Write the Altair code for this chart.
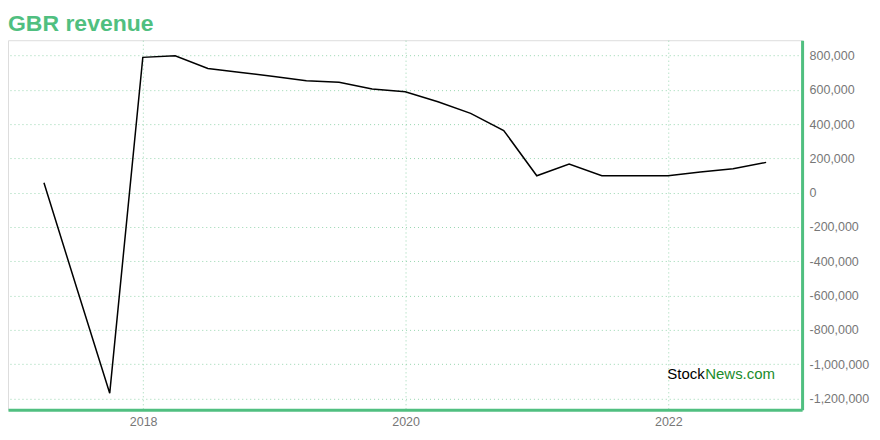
import altair as alt
import pandas as pd

dates = [
    "2017-03-31", "2017-06-30", "2017-09-30", "2017-12-31",
    "2018-03-31", "2018-06-30", "2018-09-30", "2018-12-31",
    "2019-03-31", "2019-06-30", "2019-09-30", "2019-12-31",
    "2020-03-31", "2020-06-30", "2020-09-30", "2020-12-31",
    "2021-03-31", "2021-06-30", "2021-09-30", "2021-12-31",
    "2022-03-31", "2022-06-30", "2022-09-30",
]
revenue = [
    58000, -555000, -1170000, 790000,
    799000, 725000, 702000, 678000,
    653000, 645000, 605000, 589000,
    531000, 463000, 363000, 99000,
    167000, 99000, 99000, 99000,
    121000, 140000, 177000,
]
y_ticks = [800000, 600000, 400000, 200000, 0, -200000, -400000,
           -600000, -800000, -1000000, -1200000]
x_tick_years = [2018, 2020, 2022]

GREEN = "#50bf80"
FONT = "Liberation Sans"
GRID = "#98d6b0"

df = pd.DataFrame({"date": dates, "revenue": revenue})

line = alt.Chart(df).mark_line(color="black", strokeWidth=1.5).encode(
    x=alt.X(
        "date:T",
        title=None,
        scale=alt.Scale(domain=[alt.DateTime(year=2016, month=12, date=21),
                                alt.DateTime(year=2023, month=1, date=8)]),
        axis=alt.Axis(
            values=[alt.DateTime(year=y, month=1, date=1) for y in x_tick_years],
            format="%Y",
            ticks=False,
            domainColor=GREEN,
            domainWidth=3,
            labelColor="#777777",
            labelFont=FONT,
            labelFontSize=12.5,
            labelPadding=6,
            gridColor=GRID,
            gridDash=[1, 3],
            gridWidth=1,
        ),
    ),
    y=alt.Y(
        "revenue:Q",
        title=None,
        scale=alt.Scale(domain=[-1267000, 890000], nice=False, zero=False),
        axis=alt.Axis(
            orient="right",
            values=y_ticks,
            labelExpr="replace(format(datum.value, ',.0f'), '\u2212', '-')",
            ticks=False,
            domainColor=GREEN,
            domainWidth=3,
            labelColor="#777777",
            labelFont=FONT,
            labelFontSize=12.5,
            labelPadding=7,
            gridColor=GRID,
            gridDash=[1, 3],
            gridWidth=1,
        ),
    ),
)

wm_df1 = pd.DataFrame({"t": ["Stock"]})
wm_df2 = pd.DataFrame({"t": ["News.com"]})
wm1 = alt.Chart(wm_df1).mark_text(
    align="left", baseline="alphabetic", fontSize=15, font=FONT, color="black"
).encode(text="t:N", x=alt.value(660), y=alt.value(339))
wm2 = alt.Chart(wm_df2).mark_text(
    align="left", baseline="alphabetic", fontSize=15, font=FONT, color="#1a8c2c"
).encode(text="t:N", x=alt.value(698), y=alt.value(339))

chart = alt.layer(line, wm1, wm2).properties(
    width=795,
    height=370,
    autosize=alt.AutoSizeParams(type="none"),
    padding={"left": 0, "top": 32, "right": 70, "bottom": 30},
    title=alt.TitleParams(
        "GBR revenue",
        anchor="start",
        font=FONT,
        fontSize=23,
        fontWeight="bold",
        color=GREEN,
        offset=4,
    ),
).configure_view(stroke="#f0f0f0").configure(background="white")

chart.save("out.html", embed_options={"renderer": "svg", "actions": False})
